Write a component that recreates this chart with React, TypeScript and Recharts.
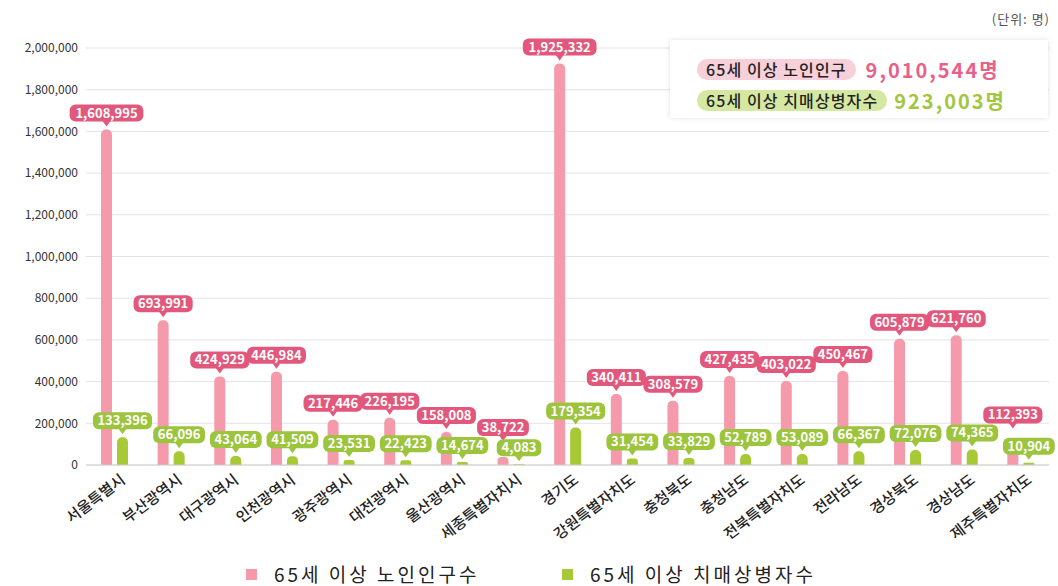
import React from 'react'
import { BarChart, Bar, XAxis, YAxis, CartesianGrid, LabelList } from 'recharts'

const regions = [
  '서울특별시', '부산광역시', '대구광역시', '인천광역시', '광주광역시', '대전광역시',
  '울산광역시', '세종특별자치시', '경기도', '강원특별자치도', '충청북도', '충청남도',
  '전북특별자치도', '전라남도', '경상북도', '경상남도', '제주특별자치도',
]
const elderly = [
  1608995, 693991, 424929, 446984, 217446, 226195, 158008, 38722, 1925332,
  340411, 308579, 427435, 403022, 450467, 605879, 621760, 112393,
]
const dementia = [
  133396, 66096, 43064, 41509, 23531, 22423, 14674, 4083, 179354,
  31454, 33829, 52789, 53089, 66367, 72076, 74365, 10904,
]
const yTicks = [0, 200000, 400000, 600000, 800000, 1000000, 1200000, 1400000, 1600000, 1800000, 2000000]

const seriesNames = ['65세 이상 노인인구수', '65세 이상 치매상병자수']
const summaryNames = ['65세 이상 노인인구', '65세 이상 치매상병자수']
const summaryTotals = ['9,010,544명', '923,003명']
const unitText = '(단위: 명)'

const PINK_BAR = '#f49aab'
const PINK_LABEL = '#e2587c'
const GREEN_BAR = '#a6c935'
const GREEN_LABEL = '#9cc43c'
const FONT = '"Noto Sans CJK KR", "Noto Sans", sans-serif'

const data = regions.map((name, i) => ({ name, elderly: elderly[i], dementia: dementia[i] }))

const LABEL_H = 17

function fmt(v: number) {
  return v.toLocaleString('en-US')
}

function Pill({ cx, tip, text, fill }: { cx: number; tip: number; text: string; fill: string }) {
  const w = text.length * 7.3 + 8
  const by = tip - 5
  return (
    <g>
      <rect x={cx - w / 2} y={by - LABEL_H} width={w} height={LABEL_H} rx={6} fill={fill} />
      <path d={`M${cx - 4},${by - 0.5} L${cx + 4},${by - 0.5} L${cx},${tip} Z`} fill={fill} />
      <text x={cx} y={by - 4} textAnchor="middle" fill="#fff" fontSize={13} fontWeight={700} fontFamily={FONT}>
        {text}
      </text>
    </g>
  )
}

// pink labels: keep clear of the green labels of this region and the one before
function ElderlyLabel(props: any) {
  const { x, y, width, height, value, index } = props
  const v = Number(value)
  const cx = Number(x) + Number(width) / 2
  let tip = Number(y) - 3
  if (v > 0) {
    const perUnit = Number(height) / v
    const base = Number(y) + Number(height)
    const near = [dementia[index], index > 0 ? dementia[index - 1] : 0]
    near.forEach((d) => {
      const greenLabelTop = base - d * perUnit - 3 - 5 - LABEL_H
      if (tip - 5 > greenLabelTop - 1) tip = greenLabelTop - 1 + 5
    })
  }
  return <Pill cx={cx} tip={tip} text={fmt(v)} fill={PINK_LABEL} />
}

function DementiaLabel(props: any) {
  const { x, y, width, value } = props
  const cx = Number(x) + Number(width) / 2
  return <Pill cx={cx} tip={Number(y) - 3} text={fmt(Number(value))} fill={GREEN_LABEL} />
}

function XTick(props: any) {
  const { x, y, payload } = props
  return (
    <g transform={`translate(${x + 9},${y + 5})`}>
      <text
        textAnchor="end"
        transform="rotate(-37)"
        fontSize={15}
        fontWeight={500}
        fill="#222"
        fontFamily={FONT}
        dy={5}
      >
        {payload.value}
      </text>
    </g>
  )
}

const pill: React.CSSProperties = {
  display: 'inline-block',
  height: 21,
  lineHeight: '21px',
  padding: '0 9px',
  borderRadius: 11,
  fontSize: 16,
  fontWeight: 500,
  letterSpacing: 1.1,
  color: '#222',
}

const legendText: React.CSSProperties = {
  marginLeft: 17,
  fontSize: 19,
  lineHeight: '22px',
  color: '#222',
  letterSpacing: 3,
}

export default function App() {
  return (
    <div style={{ position: 'absolute', left: 0, top: 0, width: 1058, height: 586, background: '#fff', fontFamily: FONT, overflow: 'hidden' }}>
      <BarChart
        width={1058}
        height={586}
        data={data}
        margin={{ top: 48, right: 9, left: 0, bottom: 11 }}
        barSize={11}
        barGap={5}
      >
        <CartesianGrid vertical={false} stroke="#e4e4e4" />
        <XAxis
          dataKey="name"
          interval={0}
          height={110}
          tickLine={false}
          axisLine={{ stroke: '#cfcfcf' }}
          tick={<XTick />}
        />
        <YAxis
          width={86}
          domain={[0, 2000000]}
          ticks={yTicks}
          axisLine={false}
          tickLine={false}
          tickFormatter={fmt}
          tick={{ fontSize: 12, fill: '#333', fontFamily: FONT }}
        />
        <Bar dataKey="elderly" fill={PINK_BAR} radius={[5, 5, 0, 0]} isAnimationActive={false}>
          <LabelList dataKey="elderly" content={<ElderlyLabel />} />
        </Bar>
        <Bar dataKey="dementia" fill={GREEN_BAR} radius={[5, 5, 0, 0]} isAnimationActive={false}>
          <LabelList dataKey="dementia" content={<DementiaLabel />} />
        </Bar>
      </BarChart>

      <div style={{ position: 'absolute', right: 8, top: 9, fontSize: 13, color: '#555', letterSpacing: 1 }}>{unitText}</div>

      <div
        style={{
          position: 'absolute',
          left: 670,
          top: 40,
          width: 378,
          height: 78,
          background: '#fff',
          boxShadow: '0 0 5px rgba(0,0,0,0.12)',
        }}
      >
        <div style={{ position: 'absolute', left: 27, top: 15, display: 'flex', alignItems: 'center' }}>
          <span style={{ ...pill, background: '#f8d0d9' }}>{summaryNames[0]}</span>
          <span style={{ marginLeft: 10, fontSize: 20, fontWeight: 700, color: '#e8618a', letterSpacing: 2 }}>
            {summaryTotals[0]}
          </span>
        </div>
        <div style={{ position: 'absolute', left: 27, top: 46, display: 'flex', alignItems: 'center' }}>
          <span style={{ ...pill, background: '#d5e8a2' }}>{summaryNames[1]}</span>
          <span style={{ marginLeft: 7, fontSize: 20, fontWeight: 700, color: '#a2c63e', letterSpacing: 2 }}>
            {summaryTotals[1]}
          </span>
        </div>
      </div>

      <div style={{ position: 'absolute', left: 246, top: 563, display: 'flex', alignItems: 'center' }}>
        <span style={{ width: 11, height: 11, background: PINK_BAR, display: 'inline-block' }} />
        <span style={legendText}>{seriesNames[0]}</span>
      </div>
      <div style={{ position: 'absolute', left: 562, top: 563, display: 'flex', alignItems: 'center' }}>
        <span style={{ width: 11, height: 11, background: GREEN_BAR, display: 'inline-block' }} />
        <span style={legendText}>{seriesNames[1]}</span>
      </div>
    </div>
  )
}
